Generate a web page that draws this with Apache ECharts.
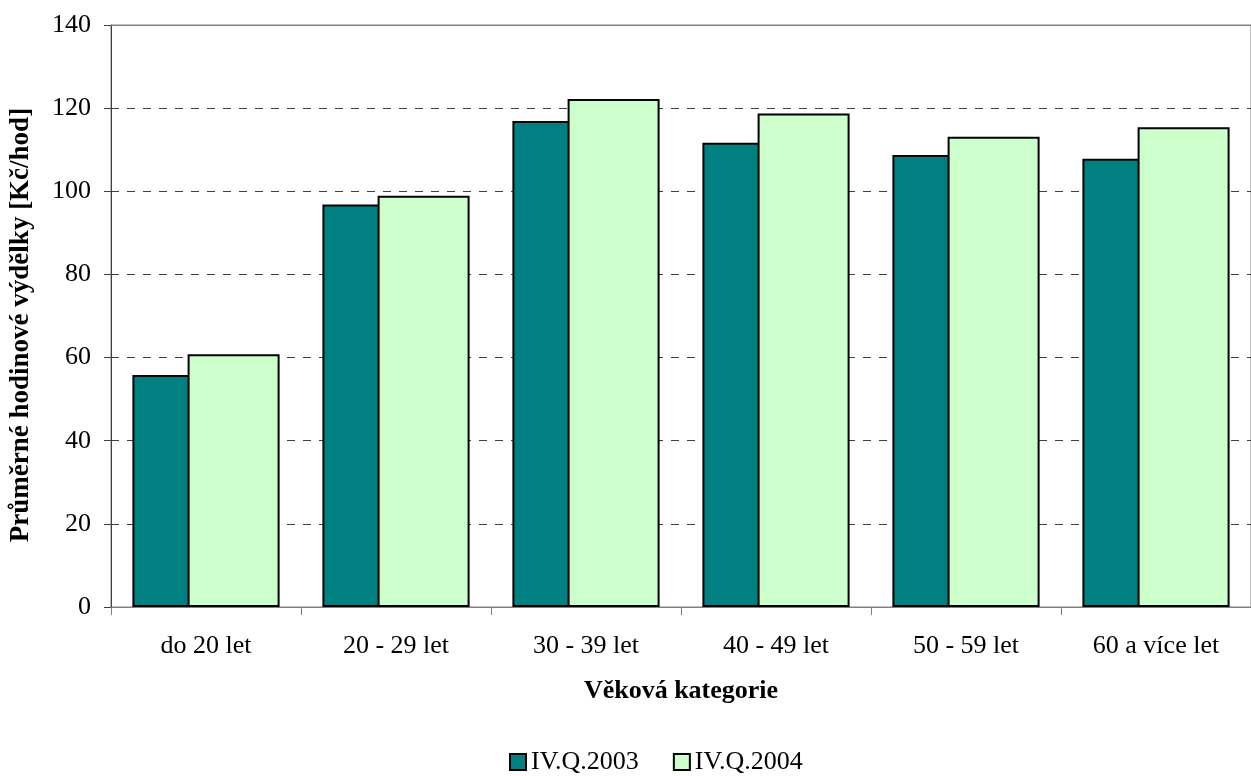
<!DOCTYPE html>
<html>
<head>
<meta charset="utf-8">
<script src="https://cdn.jsdelivr.net/npm/echarts@6/dist/echarts.min.js"></script>
<style>html,body{margin:0;padding:0;background:#fff;}#c{width:1251px;height:776px;}</style>
</head>
<body>
<div id="c"></div>
<script>
const categories = ['do 20 let', '20 - 29 let', '30 - 39 let', '40 - 49 let', '50 - 59 let', '60 a více let'];
const seriesNames = ['IV.Q.2003', 'IV.Q.2004'];
const values2003 = [55.8, 96.8, 116.9, 111.7, 108.7, 107.8];
const values2004 = [60.8, 98.9, 122.2, 118.7, 113.1, 115.4];
const yTicks = [0, 20, 40, 60, 80, 100, 120, 140];

const font = '"Liberation Serif", "Times New Roman", serif';
const chart = echarts.init(document.getElementById('c'));
chart.setOption({
  animation: false,
  backgroundColor: '#fff',
  textStyle: { fontFamily: font, color: '#000' },
  grid: { left: 111, top: 25, width: 1153, height: 582, show: true, borderColor: '#808080', borderWidth: 1, backgroundColor: 'transparent' },
  legend: {
    left: 504, top: 744,
    itemWidth: 16, itemHeight: 16, itemGap: 34,
    icon: 'rect',
    textStyle: { fontFamily: font, fontSize: 26, color: '#000' },
    itemStyle: { borderColor: '#000', borderWidth: 2 },
    data: seriesNames
  },
  xAxis: {
    type: 'category',
    data: categories,
    name: 'Věková kategorie',
    nameLocation: 'middle',
    nameGap: 71,
    nameTextStyle: { fontFamily: font, fontSize: 26, fontWeight: 'bold', color: '#000' },
    axisLine: { lineStyle: { color: '#808080', width: 1 } },
    axisTick: { show: true, length: 8, lineStyle: { color: '#808080' } },
    axisLabel: { fontFamily: font, fontSize: 26, color: '#000', margin: 26 }
  },
  yAxis: {
    type: 'value',
    min: 0, max: 140, interval: 20,
    name: 'Průměrné hodinové výdělky [Kč/hod]',
    nameLocation: 'middle',
    nameGap: 76,
    nameRotate: 90,
    nameTextStyle: { fontFamily: font, fontSize: 27, fontWeight: 'bold', color: '#000', padding: [0, 18, 0, 0] },
    axisLine: { show: true, lineStyle: { color: '#404040', width: 1 } },
    axisTick: { show: true, length: 7, lineStyle: { color: '#404040' } },
    axisLabel: { fontFamily: font, fontSize: 26, color: '#000', margin: 20,
      formatter: v => yTicks.includes(v) ? String(v) : '' },
    splitLine: { show: true, lineStyle: { color: '#404040', type: [8, 8], width: 1 } }
  },
  series: [
    { name: seriesNames[0], type: 'bar', data: values2003, barWidth: 92, barGap: '-40%',
      itemStyle: { color: '#008080', borderColor: '#000', borderWidth: 2 },
      markLine: { silent: true, symbol: 'none', label: { show: false },
        lineStyle: { color: '#808080', type: 'solid', width: 1 },
        data: [{ yAxis: yTicks[yTicks.length - 1] }] } },
    { name: seriesNames[1], type: 'bar', data: values2004, barWidth: 92, barGap: '-40%',
      itemStyle: { color: '#CCFFCC', borderColor: '#000', borderWidth: 2 } }
  ]
});
</script>
</body>
</html>
